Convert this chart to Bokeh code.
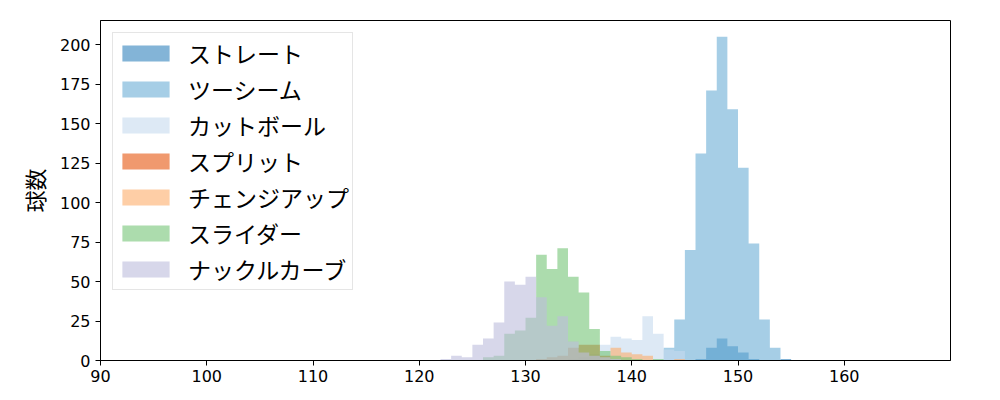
import numpy as np
from bokeh.plotting import figure
from bokeh.models import Range1d, FixedTicker
from bokeh.embed import file_html
from bokeh.resources import INLINE

# bin left edges (km/h), each bin is 1 km/h wide
speeds = list(range(122, 156))

names = ["ストレート", "ツーシーム", "カットボール", "スプリット", "チェンジアップ", "スライダー", "ナックルカーブ"]
colors = ["#3182bd", "#6baed6", "#c6dbef", "#e6550d", "#fdae6b", "#74c476", "#bcbddc"]

straight = {146: 1, 147: 8, 148: 14, 149: 9, 150: 5, 151: 1, 154: 1}
twoseam = {143: 8, 144: 26, 145: 70, 146: 131, 147: 171, 148: 205, 149: 159,
           150: 122, 151: 74, 152: 26, 153: 8}
cutball = {134: 1, 135: 2, 136: 4, 137: 10, 138: 15, 139: 14, 140: 13, 141: 28,
           142: 17, 143: 7, 144: 6}
split = {131: 1, 132: 2, 133: 3, 134: 8, 135: 10, 136: 10, 137: 3}
changeup = {137: 2, 138: 8, 139: 5, 140: 4, 141: 3, 144: 1}
slider = {126: 2, 127: 3, 128: 17, 129: 19, 130: 27, 131: 67, 132: 58, 133: 71,
          134: 53, 135: 43, 136: 20, 137: 6, 138: 3, 139: 2, 140: 1, 142: 1}
knuckle = {122: 1, 123: 3, 124: 2, 125: 10, 126: 14, 127: 24, 128: 50, 129: 48,
           130: 53, 131: 40, 132: 22, 133: 28, 134: 12, 135: 5, 136: 3, 137: 2, 138: 1}

series = [straight, twoseam, cutball, split, changeup, slider, knuckle]

xticks = [90, 100, 110, 120, 130, 140, 150, 160]
yticks = [0, 25, 50, 75, 100, 125, 150, 175, 200]

p = figure(width=992, height=392, output_backend="svg", toolbar_location=None,
           x_range=Range1d(90, 170), y_range=Range1d(0, 215.25),
           min_border_left=100, min_border_right=42, min_border_top=20, min_border_bottom=32)

for name, color, s in zip(names, colors, series):
    # histogram outline as one step polygon (no seams between bars)
    xs = [speeds[0]]
    ys = [0]
    for b in speeds:
        c = s.get(b, 0)
        xs += [b, b + 1]
        ys += [c, c]
    xs.append(speeds[-1] + 1)
    ys.append(0)
    p.patch(xs, ys, fill_color=color, fill_alpha=0.6, line_color=None, legend_label=name)

p.xgrid.visible = False
p.ygrid.visible = False
p.outline_line_color = "black"
p.outline_line_width = 1
p.outline_line_alpha = 1

for ax in (p.xaxis[0], p.yaxis[0]):
    ax.axis_line_color = "black"
    ax.major_tick_line_color = "black"
    ax.major_tick_out = 5
    ax.major_tick_in = 0
    ax.minor_tick_line_color = None
    ax.major_label_text_font = "DejaVu Sans"
    ax.major_label_text_font_size = "16px"
    ax.major_label_text_color = "black"

p.xaxis.ticker = FixedTicker(ticks=xticks)
p.yaxis.ticker = FixedTicker(ticks=yticks)
p.xaxis.major_label_standoff = 4
p.yaxis.major_label_standoff = 5

p.yaxis.axis_label = "球数"
p.yaxis.axis_label_text_font = "Noto Sans CJK JP"
p.yaxis.axis_label_text_font_size = "22px"
p.yaxis.axis_label_text_font_style = "normal"
p.yaxis.axis_label_text_color = "black"
p.yaxis.axis_label_standoff = 7

lg = p.legend[0]
lg.location = "top_left"
lg.margin = 12
lg.padding = 3
lg.spacing = 2
lg.glyph_width = 59
lg.glyph_height = 20
lg.label_height = 24
lg.label_standoff = 13
lg.label_text_font = "Noto Sans CJK JP"
lg.label_text_font_size = "23px"
lg.label_text_color = "black"
lg.border_line_color = "#cccccc"
lg.border_line_width = 1
lg.background_fill_alpha = 0.8

open("out.html", "w").write(file_html(p, INLINE))
